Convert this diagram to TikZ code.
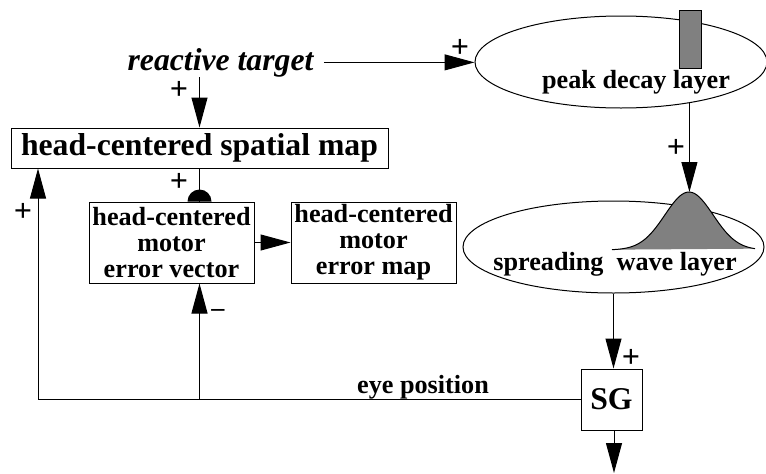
\documentclass[tikz,border=0pt]{standalone}
\usepackage{fontspec}
\setmainfont{Liberation Serif}
\usetikzlibrary{arrows.meta, positioning, shapes.geometric}
\definecolor{layerGray}{HTML}{808080}

\begin{document}
\begin{tikzpicture}[x=1pt, y=-1pt, line width=1pt,
    arr/.style={-{Triangle[length=30pt, width=16pt]}},
    lbl/.style={font=\fontsize{26.2}{26}\selectfont\bfseries},
    biglbl/.style={font=\fontsize{31.7}{34}\selectfont\bfseries},
    sign/.style={font=\fontsize{32}{32}\selectfont\bfseries, inner sep=0pt},
    box/.style={draw, lbl, align=center, inner sep=0pt},
    layer/.style={draw, ellipse, inner sep=0pt}]
  \useasboundingbox (0,0) rectangle (766,474);

  % layers on the right
  \node[layer, minimum width=292pt, minimum height=92pt] (peak) at (621,62) {};
  \filldraw[fill=layerGray] (679,10) rectangle (701,68);
  \node[lbl, anchor=base] (peaktext) at (636,88) {peak decay layer};
  \node[layer, minimum width=301pt, minimum height=92pt] (wave) at (613.5,247) {};
  \fill[layerGray] plot[domain=-77:66, samples=60] ({689+\x},{250-58*exp(-(\x/34)^2)}) -- cycle;
  \draw plot[domain=-77:66, samples=60] ({689+\x},{250-58*exp(-(\x/34)^2)});
  \coordinate (gtop) at (689,192);
  \node[lbl, anchor=base] (wavetext) at (615,270) {spreading\ \ wave layer};
  \node[box, biglbl, minimum size=61pt] (sg) at (611.5,399.5) {SG};
  \coordinate (sgout) at (614,473);

  % maps on the left
  \node[biglbl, anchor=base, inner xsep=10pt, inner ysep=0pt] (target) at (220.5,70) {\itshape reactive target};
  \node[box, biglbl, minimum width=377pt, minimum height=40pt] (spatial) at (199.5,148) {head-centered spatial map};
  \node[box, minimum width=165pt, minimum height=81pt] (vector) at (171.5,242.5) {head-centered\\motor\\error vector};
  \node[box, minimum width=165pt, minimum height=81pt] (errmap) at (373.5,242.5) {head-centered\\motor\\error map};
  \coordinate (fbcorner) at (38,398);
  \node[lbl, anchor=base] (eyepos) at (423,393) {eye position};

  % connections
  \draw[arr] (target.east) -- (target.east -| peak.west);
  \draw[arr] (target.south -| spatial.north) -- (spatial.north);
  \draw (spatial.south) -- (spatial.south |- vector.north);
  \fill (spatial.south |- vector.north) ++(12pt,0) arc[start angle=0, end angle=180, radius=12pt] -- cycle;
  \draw[arr] (vector.east) -- (errmap.west);
  \draw[arr] (peak.-31) -- (peak.-31 |- gtop);
  \draw[arr] (wave.south) -- (wave.south |- sg.north);
  \draw[arr] (sgout |- sg.south) -- (sgout);
  \draw[arr] (sg.west) -- (sg.west -| fbcorner) -- (fbcorner |- spatial.south);
  \draw[arr] (sg.west -| spatial.south) -- (spatial.south |- vector.south);

  % signs
  \node[sign] (plusPeak) at (460,48) {+};
  \node[sign] (plusTarget) at (179,90) {+};
  \node[sign] (plusInhib) at (179,182) {+};
  \node[sign] (plusWave) at (676,148) {+};
  \node[sign] (plusSG) at (631,358) {+};
  \node[sign] (plusEye) at (23,212) {+};
  \node[lbl, inner sep=0pt] (minusEye) at (218,313) {--};
\end{tikzpicture}
\end{document}
